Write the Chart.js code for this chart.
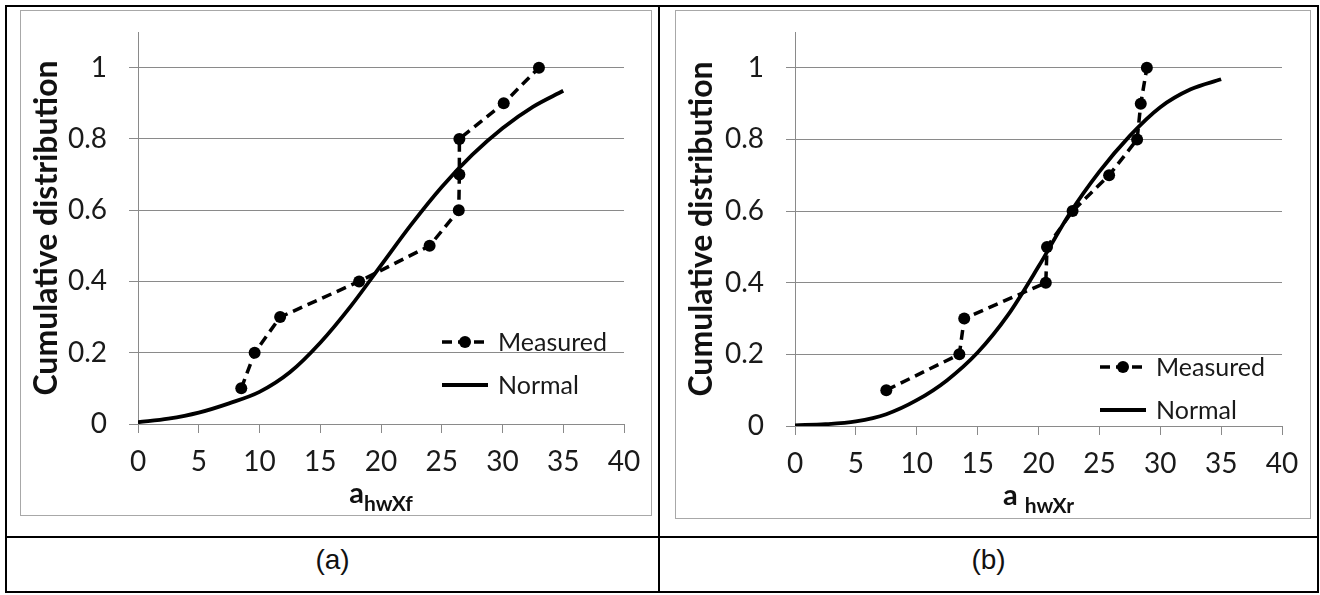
<!DOCTYPE html>
<html>
<head>
<meta charset="utf-8">
<script src="https://cdn.jsdelivr.net/npm/chart.js@4.4.0/dist/chart.umd.min.js"></script>
<style>
body { margin:0; background:#fff; width:1320px; height:595px; position:relative; overflow:hidden; font-family:Lato, sans-serif; }
.rule { position:absolute; background:#000; }
.frame { position:absolute; border:1px solid #a8a8a8; background:#fff; }
.frame canvas { position:absolute; left:0; top:0; }
.xtitle { position:absolute; font:bold 29px Lato; line-height:26px; color:#111; white-space:nowrap; transform:translateX(-50%); }
.xtitle span { font-size:21px; position:relative; top:8px; }
.cap { position:absolute; font:28px "Liberation Sans", Arial, sans-serif; line-height:30px; color:#111; text-align:center; }
</style>
</head>
<body>
<!-- table rules -->
<div class="rule" style="left:5px;top:5px;width:1314px;height:2px"></div>
<div class="rule" style="left:5px;top:536px;width:1314px;height:2px"></div>
<div class="rule" style="left:5px;top:591px;width:1314px;height:2px"></div>
<div class="rule" style="left:5px;top:5px;width:2px;height:588px"></div>
<div class="rule" style="left:658px;top:5px;width:2px;height:588px"></div>
<div class="rule" style="left:1317px;top:5px;width:2px;height:588px"></div>

<div class="frame" style="left:20px;top:10px;width:630px;height:504px"><canvas id="chartA" width="630" height="504"></canvas></div>
<div class="frame" style="left:675px;top:10px;width:634px;height:507px"><canvas id="chartB" width="634" height="507"></canvas></div>

<div class="xtitle" id="titleA" style="top:479px">a<span>hwXf</span></div>
<div class="xtitle" id="titleB" style="top:481px">a <span>hwXr</span></div>

<div class="cap" style="left:7px;top:545px;width:651px">(a)</div>
<div class="cap" style="left:660px;top:545px;width:657px">(b)</div>

<script>
var xTickValues = [0, 5, 10, 15, 20, 25, 30, 35, 40];
var yTickValues = [0, 0.2, 0.4, 0.6, 0.8, 1];

var measuredY = [0.1, 0.2, 0.3, 0.4, 0.5, 0.6, 0.7, 0.8, 0.9, 1.0];
var measuredXa = [8.5, 9.6, 11.7, 18.2, 24.0, 26.4, 26.45, 26.45, 30.1, 33.0];
var measuredXb = [7.5, 13.5, 13.9, 20.6, 20.7, 22.8, 25.8, 28.1, 28.4, 28.9];

var normalX = [0, 2.5, 5, 7.5, 10, 12.5, 15, 17.5, 20, 22.5, 25, 27.5, 30, 32.5, 35];
var normalYa = [0.005, 0.015, 0.032, 0.058, 0.09, 0.145, 0.228, 0.33, 0.445, 0.56, 0.665, 0.755, 0.83, 0.89, 0.935];
var normalYb = [0.002, 0.005, 0.013, 0.033, 0.072, 0.128, 0.205, 0.31, 0.445, 0.59, 0.71, 0.81, 0.89, 0.94, 0.968];

var tickFont = { family: 'Lato', size: 28 };
var gridGray = '#8a8a8a';

function toPoints(xs, ys) {
    return xs.map(function(x, i) { return { x: x, y: ys[i] }; });
}

// legend drawn inside the plot, Excel style
var insideLegend = {
    id: 'insideLegend',
    afterDatasetsDraw: function(chart, args, opts) {
        var ctx = chart.ctx, area = chart.chartArea;
        chart.data.datasets.forEach(function(ds, i) {
            var x0 = area.left + opts.x;
            var y = area.top + opts.y + i * opts.gap;
            ctx.save();
            ctx.strokeStyle = '#000';
            ctx.lineWidth = ds.borderWidth;
            ctx.setLineDash(ds.borderDash || []);
            ctx.beginPath();
            ctx.moveTo(x0, y);
            ctx.lineTo(x0 + opts.len, y);
            ctx.stroke();
            if (ds.pointRadius) {
                ctx.setLineDash([]);
                ctx.fillStyle = '#000';
                ctx.beginPath();
                ctx.arc(x0 + opts.len / 2, y, ds.pointRadius, 0, Math.PI * 2);
                ctx.fill();
            }
            ctx.fillStyle = '#1a1a1a';
            ctx.font = '25px Lato';
            ctx.textBaseline = 'middle';
            ctx.fillText(ds.label, x0 + opts.textX, y + 1);
            ctx.restore();
        });
    }
};

function makeChart(canvasId, titleId, mx, ny, cfg) {
    var chart = new Chart(document.getElementById(canvasId), {
        type: 'scatter',
        data: {
            datasets: [{
                label: 'Measured',
                data: toPoints(mx, measuredY),
                showLine: true,
                borderColor: '#000',
                borderWidth: 3.5,
                borderDash: [10, 6],
                pointRadius: 6,
                pointBackgroundColor: '#000',
                pointBorderWidth: 0,
                tension: 0
            }, {
                label: 'Normal',
                data: toPoints(normalX, ny),
                showLine: true,
                borderColor: '#000',
                borderWidth: 3.8,
                pointRadius: 0,
                cubicInterpolationMode: 'monotone'
            }]
        },
        options: {
            responsive: false,
            animation: false,
            events: [],
            layout: { padding: { left: 6, top: 21, right: cfg.right, bottom: 0 } },
            scales: {
                x: {
                    type: 'linear',
                    min: 0, max: 40,
                    afterBuildTicks: function(scale) {
                        scale.ticks = xTickValues.map(function(v) { return { value: v }; });
                    },
                    afterFit: function(scale) {
                        scale.height = cfg.xHeight;
                        scale.paddingLeft = 0; scale.paddingRight = 0;
                    },
                    grid: { drawOnChartArea: false, drawTicks: true, tickLength: 9, color: gridGray, lineWidth: 1 },
                    border: { color: gridGray, width: 1 },
                    ticks: { font: tickFont, color: '#1a1a1a', padding: 12, maxRotation: 0,
                        callback: function(v) { return String(v); } }
                },
                y: {
                    min: 0, max: 1.1,
                    afterBuildTicks: function(scale) {
                        scale.ticks = yTickValues.map(function(v) { return { value: v }; });
                    },
                    afterFit: function(scale) {
                        scale.width = cfg.yWidth;
                        scale.paddingTop = 0; scale.paddingBottom = 0;
                    },
                    grid: { drawTicks: true, tickLength: 9, color: gridGray, lineWidth: 1 },
                    border: { color: gridGray, width: 1 },
                    ticks: { font: tickFont, color: '#1a1a1a', padding: 22,
                        callback: function(v) { return String(v); } },
                    title: {
                        display: true,
                        text: 'Cumulative distribution',
                        font: { family: 'Lato', size: 32, weight: 'bold' },
                        color: '#111',
                        padding: 0
                    }
                }
            },
            plugins: {
                legend: { display: false },
                tooltip: { enabled: false },
                insideLegend: { x: cfg.legX, y: cfg.legY, gap: 43, len: 46, textX: 56 }
            }
        },
        plugins: [insideLegend]
    });

    // centre the html axis title (it has a subscript) under the plot area
    var canvas = document.getElementById(canvasId);
    var frameLeft = canvas.parentNode.offsetLeft + 1;
    var area = chart.chartArea;
    document.getElementById(titleId).style.left = (frameLeft + (area.left + area.right) / 2) + 'px';
    return chart;
}

makeChart('chartA', 'titleA', measuredXa, normalYa, { right: 27, xHeight: 91, yWidth: 111, legX: 304, legY: 310 });
makeChart('chartB', 'titleB', measuredXb, normalYb, { right: 28, xHeight: 92, yWidth: 113, legX: 305, legY: 335 });
</script>
</body>
</html>
